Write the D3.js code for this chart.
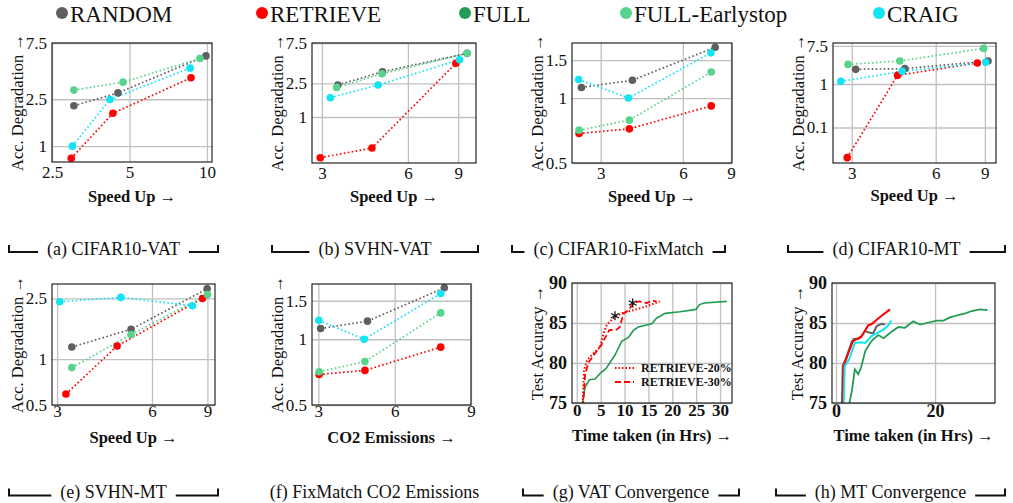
<!DOCTYPE html>
<html><head><meta charset="utf-8">
<script src="https://cdn.jsdelivr.net/npm/d3@7"></script>
<style>
body{margin:0;background:#fff;}
svg text{font-family:"Liberation Serif","DejaVu Serif",serif !important;fill:#111;}
</style></head><body>
<svg id="c" width="1013" height="503"></svg>
<script>
// ---------- data ----------
const seriesNames = ["RANDOM","RETRIEVE","FULL","FULL-Earlystop","CRAIG"];
const seriesColors = ["#5f5f5f","#ff0000","#229c52","#57d38b","#14e3f3"];

// (a) CIFAR10-VAT  [speed up, acc. degradation]
const aRandom   = [[3.04,2.2],[4.51,2.83],[9.91,5.83]];
const aRetrieve = [[2.97,0.79],[4.31,1.9],[8.67,3.8]];
const aFullES   = [[3.04,2.99],[4.72,3.49],[9.39,5.55]];
const aCraig    = [[3.0,1.0],[4.2,2.49],[8.6,4.59]];
// (b) SVHN-VAT
const bRandom   = [[3.41,2.39],[4.89,3.43],[9.67,5.66]];
const bRetrieve = [[2.96,0.33],[4.49,0.43],[8.83,4.31]];
const bFullES   = [[3.38,2.24],[4.87,3.25],[9.67,5.66]];
const bCraig    = [[3.21,1.69],[4.72,2.39],[9.1,4.75]];
// (c) CIFAR10-FixMatch
const cRandom   = [[2.55,1.12],[3.92,1.21],[7.88,1.72]];
const cRetrieve = [[2.5,0.685],[3.82,0.72],[7.62,0.92]];
const cFullES   = [[2.5,0.71],[3.82,0.79],[7.62,1.32]];
const cCraig    = [[2.49,1.22],[3.79,1.0],[7.6,1.62]];
// (d) CIFAR10-MT
const dRandom   = [[3.10,2.17],[4.65,2.25],[9.24,3.38]];
const dRetrieve = [[2.89,0.0203],[4.38,1.58],[8.46,3.04]];
const dFullES   = [[2.91,2.82],[4.46,3.38],[8.91,6.58]];
const dCraig    = [[2.74,1.15],[4.55,1.95],[9.06,3.14]];
// (e) SVHN-MT
const eRandom   = [[3.34,1.2],[5.15,1.57],[8.98,2.89]];
const eRetrieve = [[3.2,0.59],[4.65,1.22],[8.68,2.5]];
const eFullES   = [[3.34,0.88],[5.15,1.45],[9.0,2.65]];
const eCraig    = [[3.06,2.38],[4.78,2.54],[8.06,2.24]];
// (f) FixMatch CO2 emissions
const fRandom   = [[3.09,1.12],[4.93,1.21],[7.95,1.72]];
const fRetrieve = [[3.03,0.69],[4.83,0.72],[7.81,0.92]];
const fFullES   = [[3.03,0.71],[4.83,0.79],[7.81,1.32]];
const fCraig    = [[3.02,1.22],[4.8,1.0],[7.81,1.62]];
// (g) VAT convergence [hours, test accuracy]
const gFull  = [[1.1,74.5],[1.19,75],[1.74,77.0],[2.65,77.9],[3.84,78.0],[4.9,78.7],[6.1,79.3],[8.0,81.0],[9.4,82.7],[10.8,83.2],[11.9,84.1],[12.9,84.5],[15.7,84.9],[16.7,85.6],[18.5,86.2],[21.6,86.4],[25.0,86.7],[25.7,87.3],[26.7,87.5],[31.4,87.7]];
const gRet20 = [[1.2,74.5],[1.5,79.1],[2.2,80.4],[3.5,81.2],[4.9,82.0],[5.6,83.7],[6.3,84.8],[8.0,85.8],[9.8,86.3],[11.9,86.6],[14.7,87.1],[17.4,87.7]];
const gRet30 = [[1.3,74.5],[1.74,78.5],[2.4,80.0],[3.8,81.2],[5.2,82.3],[5.9,83.1],[6.8,84.1],[8.4,84.2],[9.0,84.5],[9.8,86.2],[10.8,86.6],[11.9,87.5],[12.9,87.7],[14.7,87.5],[15.7,87.8],[16.7,87.7]];
const gStars = [[8.0,85.9],[11.7,87.5]];
const gLegend = ["RETRIEVE-20%","RETRIEVE-30%"];
// (h) MT convergence
const hFull   = [[2.6,74.5],[2.7,75],[3.2,76.5],[3.8,79.2],[4.5,78.6],[5.05,79.4],[5.9,81.5],[6.9,82.5],[7.4,82.9],[8.55,83.5],[9.6,83.1],[11.2,83.9],[12.6,84.5],[13.9,84.4],[15.6,85.2],[16.3,85.0],[17.0,84.8],[18.3,85.0],[20.3,85.3],[21.7,85.3],[23.0,85.7],[24.7,86.0],[26.1,86.2],[27.4,86.5],[29.1,86.7],[30.6,86.6]];
const hRandom = [[1.2,74.5],[1.35,79.6],[2.15,80.8],[3.2,82.7],[3.6,83.0],[4.5,83.0],[5.2,83.4],[5.9,84.0],[6.7,83.8],[7.5,83.7],[8.2,84.6],[9.2,84.9],[9.9,84.8]];
const hRetrieve = [[1.3,74.5],[1.55,79.6],[2.5,81.25],[3.4,82.7],[4.2,83.0],[5.05,83.25],[5.9,84.1],[6.5,84.7],[7.3,84.9],[8.2,85.4],[9.2,85.9],[10.9,86.7]];
const hCraig  = [[1.55,74.5],[1.75,79.6],[2.6,80.4],[3.8,82.5],[4.85,82.6],[5.9,82.5],[6.5,82.9],[7.2,83.4],[8.2,83.7],[9.6,84.2],[10.4,84.6],[11.2,85.3]];

// tick labels
const ticksA_x = [2.5,5,10], ticksA_y = [1,2.5,7.5];
const ticksB_x = [3,6,9],   ticksB_y = [1,2.5,7.5];
const ticksC_x = [3,6,9],   ticksC_y = [0.5,1,1.5];
const ticksD_x = [3,6,9],   ticksD_y = [0.1,1,7.5];
const ticksE_x = [3,6,9],   ticksE_y = [0.5,1,2.5];
const ticksF_x = [3,6,9],   ticksF_y = [0.5,1,1.5];
const ticksG_x = [0,5,10,15,20,25,30], ticksG_y = [75,80,85,90];
const ticksH_x = [0,20],    ticksH_y = [75,80,85,90];

const captions = ["(a) CIFAR10-VAT","(b) SVHN-VAT","(c) CIFAR10-FixMatch","(d) CIFAR10-MT",
                  "(e) SVHN-MT","(f) FixMatch CO2 Emissions","(g) VAT Convergence","(h) MT Convergence"];

// ---------- drawing ----------
const FONT = '"Liberation Serif","DejaVu Serif",serif';
const svg = d3.select("#c");
const col = name => seriesColors[seriesNames.indexOf(name)];
let clipId = 0;

function makePanel(cfg){
  const [x0,x1,y0,y1] = cfg.box;
  const xs = (cfg.xlog ? d3.scaleLog() : d3.scaleLinear()).domain(cfg.xdom).range([x0,x1]);
  const ys = (cfg.ylog ? d3.scaleLog() : d3.scaleLinear()).domain(cfg.ydom).range([y1,y0]);
  const g = svg.append("g");
  const fmt = d => String(d);
  const ax = g.append("g").attr("transform",`translate(0,${y1})`)
    .call(d3.axisBottom(xs).tickValues(cfg.xticks).tickFormat(fmt).tickSize(-(y1-y0)).tickPadding(cfg.xpad));
  const ay = g.append("g").attr("transform",`translate(${x0},0)`)
    .call(d3.axisLeft(ys).tickValues(cfg.yticks).tickFormat(fmt).tickSize(-(x1-x0)).tickPadding(5));
  [ax,ay].forEach(a=>{
    a.attr("font-family",FONT);
    a.select(".domain").remove();
    a.selectAll(".tick line").attr("stroke","#c0c0c0").attr("stroke-width",1.3);
    a.selectAll(".tick text").style("font-family",FONT).attr("fill","#111");
  });
  ax.selectAll(".tick text").style("font-size",(cfg.xfs||17)+"px").style("font-weight",cfg.bold?"bold":"normal");
  ay.selectAll(".tick text").style("font-size",(cfg.yfs||17)+"px").style("font-weight",cfg.bold?"bold":"normal");
  const id = "clip"+(clipId++);
  svg.append("clipPath").attr("id",id).append("rect").attr("x",x0).attr("y",y0).attr("width",x1-x0).attr("height",y1-y0);
  const data = g.append("g").attr("clip-path",`url(#${id})`);
  const line = d3.line().x(d=>xs(d[0])).y(d=>ys(d[1]));
  (cfg.series||[]).forEach(s=>{
    const p = data.append("path").attr("d",line(s.pts)).attr("fill","none")
      .attr("stroke",s.color).attr("stroke-width",s.w||1.6);
    if(s.dash) p.attr("stroke-dasharray",s.dash);
  });
  (cfg.scatter||[]).forEach(s=>{
    g.append("path").attr("d",line(s.pts)).attr("fill","none").attr("stroke",col(s.name))
      .attr("stroke-width",1.7).attr("stroke-dasharray","1.6,2.4");
  });
  (cfg.scatter||[]).forEach(s=>{
    g.selectAll(null).data(s.pts).join("circle").attr("cx",d=>xs(d[0])).attr("cy",d=>ys(d[1]))
      .attr("r",3.8).attr("fill",col(s.name));
  });
  g.append("rect").attr("x",x0).attr("y",y0).attr("width",x1-x0).attr("height",y1-y0)
    .attr("fill","none").attr("stroke","#111").attr("stroke-width",1.1);
  g.append("text").attr("transform",`translate(${x0-35},${(y0+y1)/2}) rotate(-90)`)
    .attr("text-anchor","middle").attr("dominant-baseline","central")
    .style("font-family",FONT).style("font-size","16.5px").text(cfg.ylabel);
  g.append("text").attr("x",(x0+x1)/2).attr("y",cfg.xlabY).attr("text-anchor","middle")
    .attr("dominant-baseline","central").style("font-family",FONT).style("font-size","16.5px")
    .style("font-weight","bold").text(cfg.xlabel);
  return {g,xs,ys};
}

const sc = (r,re,fe,cr) => [{name:"RANDOM",pts:r},{name:"RETRIEVE",pts:re},{name:"FULL-Earlystop",pts:fe},{name:"CRAIG",pts:cr}];
const degr = "Acc. Degradation \u2192", spd = "Speed Up \u2192";

makePanel({box:[52,212,43,162],xlog:true,ylog:true,xdom:[2.5,10.46],ydom:[0.734,7.5],xticks:ticksA_x,yticks:ticksA_y,xpad:4,
  scatter:sc(aRandom,aRetrieve,aFullES,aCraig),ylabel:degr,xlabel:spd,xlabY:196});
makePanel({box:[312,476,43,163],xlog:true,ylog:true,xdom:[2.77,10.39],ydom:[0.286,7.5],xticks:ticksB_x,yticks:ticksB_y,xpad:4,
  scatter:sc(bRandom,bRetrieve,bFullES,bCraig),ylabel:degr,xlabel:spd,xlabY:196});
makePanel({box:[572,732,43,163],xlog:true,ylog:true,xdom:[2.355,9.08],ydom:[0.5,1.8],xticks:ticksC_x,yticks:ticksC_y,xpad:4,
  scatter:sc(cRandom,cRetrieve,cFullES,cCraig),ylabel:degr,xlabel:spd,xlabY:196});
makePanel({box:[833,996,43,163],xlog:true,ylog:true,xdom:[2.57,9.87],ydom:[0.0153,8.75],xticks:ticksD_x,yticks:ticksD_y,xpad:4,
  scatter:sc(dRandom,dRetrieve,dFullES,dCraig),ylabel:degr,xlabel:spd,xlabY:195});
makePanel({box:[52,215,284,405],xlog:true,ylog:true,xdom:[2.89,9.51],ydom:[0.5,3.11],xticks:ticksE_x,yticks:ticksE_y,xpad:0,
  scatter:sc(eRandom,eRetrieve,eFullES,eCraig),ylabel:degr,xlabel:spd,xlabY:437});
makePanel({box:[312,471,284,405],xlog:false,ylog:true,xdom:[2.75,9],ydom:[0.5,1.79],xticks:ticksF_x,yticks:ticksF_y,xpad:0,
  scatter:sc(fRandom,fRetrieve,fFullES,fCraig),ylabel:degr,xlabel:"CO2 Emissions \u2192",xlabY:437});
const pg = makePanel({box:[572,732,283,403],xlog:false,ylog:false,xdom:[-1,32.5],ydom:[75,90],xticks:ticksG_x,yticks:ticksG_y,xpad:1,bold:true,xfs:17,yfs:18,
  series:[{pts:gFull,color:col("FULL"),w:1.6},{pts:gRet20,color:col("RETRIEVE"),w:2,dash:"1.5,2"},{pts:gRet30,color:col("RETRIEVE"),w:1.8,dash:"6,3"}],
  ylabel:"Test Accuracy \u2192",xlabel:"Time taken (in Hrs) \u2192",xlabY:435});
makePanel({box:[832,995,283,403],xlog:false,ylog:false,xdom:[-0.81,32.1],ydom:[75,90],xticks:ticksH_x,yticks:ticksH_y,xpad:1,bold:true,xfs:18,yfs:18,
  series:[{pts:hFull,color:col("FULL"),w:1.8},{pts:hRandom,color:col("RANDOM"),w:2},{pts:hRetrieve,color:col("RETRIEVE"),w:2},{pts:hCraig,color:col("CRAIG"),w:2}],
  ylabel:"Test Accuracy \u2192",xlabel:"Time taken (in Hrs) \u2192",xlabY:435});

// stars in (g)
gStars.forEach(d=>{
  const cx = pg.xs(d[0]), cy = pg.ys(d[1]);
  const path = d3.path();
  [90,30,150].forEach(a=>{const r=a*Math.PI/180, L=4.5; path.moveTo(cx-L*Math.cos(r),cy-L*Math.sin(r)); path.lineTo(cx+L*Math.cos(r),cy+L*Math.sin(r));});
  pg.g.append("path").attr("d",path.toString()).attr("stroke","#111").attr("stroke-width",1.3);
});
// legend in (g)
gLegend.forEach((t,i)=>{
  const y = 368 + i*14;
  pg.g.append("line").attr("x1",615).attr("x2",634).attr("y1",y).attr("y2",y).attr("stroke",col("RETRIEVE"))
    .attr("stroke-width",i?1.8:2).attr("stroke-dasharray",i?"6,3":"1.5,2");
  pg.g.append("text").attr("x",641).attr("y",y).attr("dominant-baseline","central")
    .style("font-family",FONT).style("font-size","12px").style("font-weight","bold").text(t);
});

// top legend
const legX = [62,262,465,626,879];
seriesNames.forEach((n,i)=>{
  svg.append("circle").attr("cx",legX[i]).attr("cy",13).attr("r",6).attr("fill",seriesColors[i]);
  svg.append("text").attr("x",legX[i]+8).attr("y",22).style("font-family",FONT).style("font-size","23px").text(n);
});

// captions with brackets
const capBox = [[9,218,254.5],[272,478,254.5],[512,725,254.5],[788,1005,254.5],
                [9,218,498],[263,486,498],[523,739,498],[776,1005,498]];
captions.forEach((t,i)=>{
  const [l,r,base] = capBox[i];
  const txt = svg.append("text").attr("x",(l+r)/2).attr("y",base).attr("text-anchor","middle")
    .style("font-family",FONT).style("font-size","18px").text(t);
  if(i===5) return;
  const w = txt.node().getComputedTextLength();
  const tl = (l+r)/2 - w/2 - 9, tr = (l+r)/2 + w/2 + 9;
  const yb = base - 2.5, yt = base - 9.5;
  svg.append("path").attr("d",`M${l},${yt}V${yb}H${tl}M${tr},${yb}H${r}V${yt}`)
    .attr("fill","none").attr("stroke","#111").attr("stroke-width",2);
});
</script>
</body></html>
